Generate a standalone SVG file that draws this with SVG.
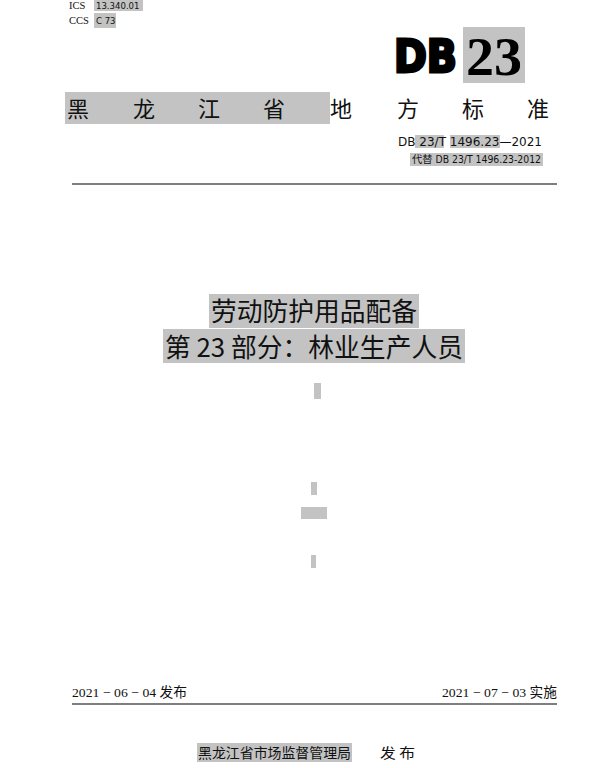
<svg xmlns="http://www.w3.org/2000/svg" width="600" height="768" viewBox="0 0 600 768">
<style>
.hl{fill:#c3c3c3}
.serif{font-family:"Liberation Serif","Noto Sans CJK SC",serif;fill:#111}
.sans{font-family:"DejaVu Sans Condensed","DejaVu Sans","Noto Sans CJK SC",sans-serif;fill:#111}
.cjk{font-family:"Noto Sans CJK SC",sans-serif;fill:#111}
.rule{stroke:#555;stroke-width:1.5}
</style>
<rect width="600" height="768" fill="#fff"/>
<g id="codes">
<rect class="hl" x="94" y="0" width="49" height="11"/>
<rect class="hl" x="94" y="13" width="22" height="15"/>
<text class="serif" x="69" y="9" font-size="10.5">ICS</text>
<text class="sans" x="96" y="9" font-size="9.5">13.340.01</text>
<text class="serif" x="69" y="24" font-size="10.5">CCS</text>
<text class="sans" x="96" y="24" font-size="9.5">C 73</text>
</g>
<g id="logo">
<text x="394" y="72" font-family="DejaVu Sans" font-weight="bold" font-size="44" textLength="63" lengthAdjust="spacingAndGlyphs" fill="#000" stroke="#000" stroke-width="3" stroke-linejoin="miter">DB</text>
<rect class="hl" x="463" y="27" width="62" height="56"/>
<text x="466" y="75" font-family="Liberation Serif" font-weight="bold" font-size="55" textLength="56" lengthAdjust="spacingAndGlyphs" fill="#000">23</text>
</g>
<g id="province-title">
<rect class="hl" x="65" y="92" width="265" height="32"/>
<text class="cjk" x="67 133 198 263 330 397 462 527" y="117" font-size="22">黑龙江省地方标准</text>
</g>
<g id="std-number">
<rect class="hl" x="415" y="135" width="29" height="13"/>
<rect class="hl" x="450" y="135" width="50" height="13"/>
<text class="sans" x="398" y="146" font-size="13" textLength="144" lengthAdjust="spacingAndGlyphs">DB 23/T 1496.23—2021</text>
<rect class="hl" x="410" y="153" width="133" height="13"/>
<text class="sans" x="412" y="163" font-size="10" textLength="129" lengthAdjust="spacingAndGlyphs">代替 DB 23/T 1496.23-2012</text>
<line class="rule" x1="72" y1="184" x2="557" y2="184"/>
</g>
<g id="main-title">
<rect class="hl" x="209" y="294" width="210" height="34"/>
<text class="cjk" x="314" y="321" font-size="26" text-anchor="middle" textLength="206" lengthAdjust="spacingAndGlyphs">劳动防护用品配备</text>
<rect class="hl" x="163" y="329" width="302" height="34"/>
<text class="cjk" x="165" y="357" font-size="26" textLength="298" lengthAdjust="spacingAndGlyphs">第 23 部分：林业生产人员</text>
</g>
<g id="marks">
<rect class="hl" x="314" y="383" width="7" height="16"/>
<rect class="hl" x="311" y="482" width="6" height="13"/>
<rect class="hl" x="301" y="507" width="26" height="12"/>
<rect class="hl" x="311" y="555" width="5" height="13"/>
</g>
<g id="dates">
<text class="serif" x="72" y="697" font-size="13.5" textLength="115" lengthAdjust="spacingAndGlyphs">2021 − 06 − 04 发布</text>
<text class="serif" x="557" y="697" font-size="13.5" text-anchor="end" textLength="115" lengthAdjust="spacingAndGlyphs">2021 − 07 − 03 实施</text>
<line class="rule" x1="72" y1="704" x2="557" y2="704"/>
</g>
<g id="publisher">
<rect class="hl" x="197" y="743" width="155" height="19"/>
<text class="cjk" x="198" y="758" font-size="14" textLength="153" lengthAdjust="spacingAndGlyphs">黑龙江省市场监督管理局</text>
<text class="cjk" x="380" y="758" font-size="14" textLength="35" lengthAdjust="spacingAndGlyphs">发 布</text>
</g>
</svg>
